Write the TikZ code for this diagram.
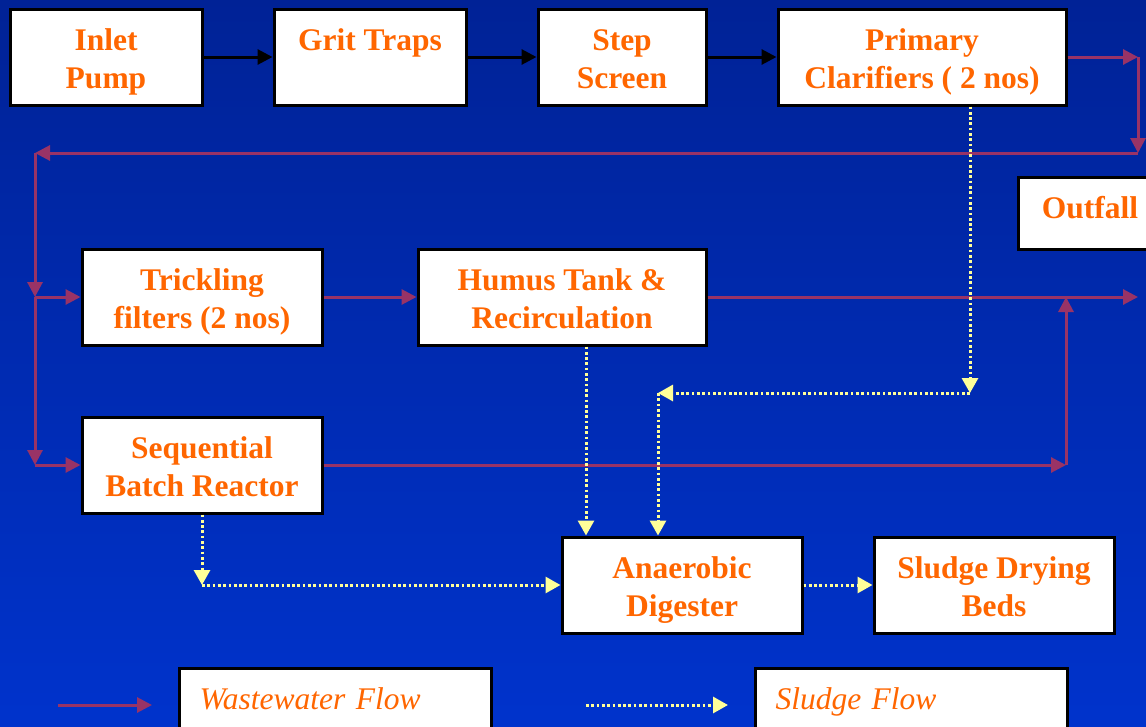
\documentclass[tikz,border=0pt]{standalone}
\usepackage{fontspec}
\setmainfont{Liberation Serif}
\usetikzlibrary{arrows.meta,positioning,calc}
\definecolor{plantorange}{RGB}{255,102,0}
\definecolor{wwmaroon}{RGB}{153,51,102}
\definecolor{sludgeyellow}{RGB}{255,255,153}
\definecolor{bgtop}{RGB}{0,34,150}
\definecolor{bgbottom}{RGB}{0,51,204}

\begin{document}
\begin{tikzpicture}[x=1pt,y=-1pt,
  box/.style={draw=black,line width=3pt,fill=white,text=plantorange,align=center,
    font=\fontsize{31.5}{38}\selectfont\bfseries,minimum height=96pt,inner sep=0pt,
    text height=62pt,text depth=0pt},
  legbox/.style={draw=black,line width=3pt,fill=white,text=plantorange,anchor=north west,
    font=\fontsize{31.5}{38}\selectfont\itshape,text width=272pt,align=left,
    inner xsep=20pt,inner ysep=19pt,text height=22pt,text depth=40pt},
  pflow/.style={black,line width=3pt,-{Triangle[length=15pt,width=15pt]}},
  wflow/.style={wwmaroon,line width=3pt,-{Triangle[length=15pt,width=15pt]}},
  sflow/.style={sludgeyellow,line width=3pt,dash pattern=on 2.7pt off 2.6pt,
    -{Triangle[length=15pt,width=16pt]}}]
  \useasboundingbox (0,0) rectangle (1146,726);
  \shade[top color=bgtop,bottom color=bgbottom] (0,0) rectangle (1146,726);

  % process units
  \node[box,minimum width=192pt] (inlet) at (106,57) {Inlet\\Pump};
  \node[box,minimum width=192pt,text height=22pt,text depth=36pt] (grit) at (370,57) {Grit Traps};
  \node[box,minimum width=168pt] (step) at (622,57) {Step\\Screen};
  \node[box,minimum width=288pt] (primary) at (922,57) {Primary\\Clarifiers ( 2 nos)};
  \node[box,minimum width=144pt,minimum height=72pt,text height=22pt,text depth=12pt] (outfall) at (1090,213) {Outfall};
  \node[box,minimum width=240pt] (trick) at (202,297) {Trickling\\filters (2 nos)};
  \node[box,minimum width=288pt] (humus) at (562,297) {Humus Tank \&\\Recirculation};
  \node[box,minimum width=240pt] (sbr) at (202,465) {Sequential\\Batch Reactor};
  \node[box,minimum width=240pt] (digest) at (682,585) {Anaerobic\\Digester};
  \node[box,minimum width=240pt] (beds) at (994,585) {Sludge Drying\\Beds};

  % legend
  \node[legbox] (legww) at (178,667) {Wastewater Flow};
  \node[legbox] (legsl) at (754,667) {Sludge Flow};

  % pumped flow
  \draw[pflow] (inlet) -- (grit);
  \draw[pflow] (grit) -- (step);
  \draw[pflow] (step) -- (primary);

  % wastewater flow
  \coordinate (ne) at (1138,57);
  \coordinate (ne2) at (1138,153);
  \coordinate (nw) at (35,153);
  \coordinate (w1) at (35,297);
  \coordinate (w2) at (35,465);
  \coordinate (outr) at (1138,297);
  \coordinate (se) at (1066,465);
  \draw[wflow] (primary.east) -- (ne);
  \draw[wflow] (ne) -- (ne2);
  \draw[wflow] (ne2) -- (nw);
  \draw[wflow] (nw) -- (w1);
  \draw[wflow] (w1) -- (trick.west);
  \draw[wflow] (w1) -- (w2);
  \draw[wflow] (w2) -- (sbr.west);
  \draw[wflow] (trick) -- (humus);
  \draw[wflow] (humus.east) -- (outr);
  \draw[wflow] (sbr.east) -- (se);
  \draw[wflow] (se) -- (se |- humus.east);

  % sludge flow
  \coordinate (s1) at (970,393);
  \coordinate (s2) at (658,393);
  \coordinate (hx) at (586,0);
  \coordinate (s4) at (202,585);
  \draw[sflow] (s1 |- primary.south) -- (s1);
  \draw[sflow] (s1) -- (s2);
  \draw[sflow] (s2) -- (s2 |- digest.north);
  \draw[sflow] (hx |- humus.south) -- (hx |- digest.north);
  \draw[sflow] (sbr.south) -- (s4);
  \draw[sflow] (s4) -- (digest.west);
  \draw[sflow] (digest) -- (beds);

  % legend samples
  \coordinate (lw1) at (58,705);
  \coordinate (lw2) at (152,705);
  \coordinate (ls1) at (586,705);
  \coordinate (ls2) at (728,705);
  \draw[wflow] (lw1) -- (lw2);
  \draw[sflow] (ls1) -- (ls2);
\end{tikzpicture}
\end{document}
